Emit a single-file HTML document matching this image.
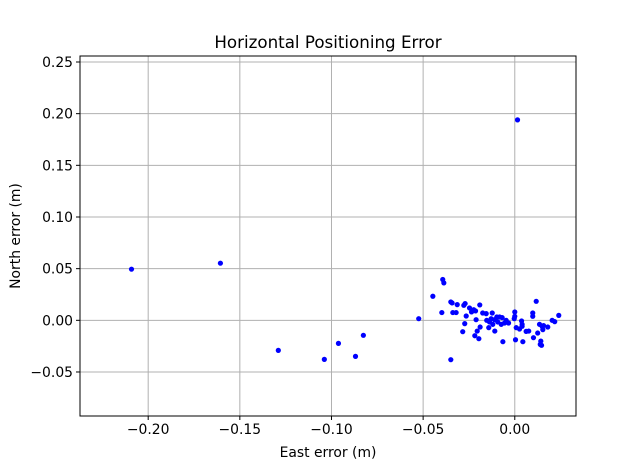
<!DOCTYPE html>
<html><head><meta charset="utf-8"><style>
body{margin:0;background:#fff}
svg{display:block;font-family:"DejaVu Sans","Liberation Sans",sans-serif}
</style></head><body>
<svg id="chart" width="640" height="468" viewBox="0 0 640 468" xmlns="http://www.w3.org/2000/svg">
<rect x="0" y="0" width="640" height="468" fill="#fff"/>
<g id="grid"></g>
<g id="ticks"></g>
<g id="points"></g>
<rect x="80" y="56" width="496" height="360" fill="none" stroke="#000" stroke-width="1"/>
<text x="328" y="48" text-anchor="middle" font-size="16.7">Horizontal Positioning Error</text>
<text x="328" y="457" text-anchor="middle" font-size="13.9">East error (m)</text>
<text transform="translate(20,236) rotate(-90)" text-anchor="middle" font-size="13.9">North error (m)</text>
</svg>
<script>
const xTicks=[-0.20,-0.15,-0.10,-0.05,0.00];
const xTickLabels=["−0.20","−0.15","−0.10","−0.05","0.00"];
const yTicks=[-0.05,0.00,0.05,0.10,0.15,0.20,0.25];
const yTickLabels=["−0.05","0.00","0.05","0.10","0.15","0.20","0.25"];
const eastErr=[0.0015,-0.2091,-0.1606,-0.1290,-0.1039,-0.0962,-0.0869,-0.0826,
-0.0393,-0.0387,-0.0447,-0.0524,-0.0398,-0.0349,-0.0342,-0.0314,-0.0338,-0.0320,-0.0278,-0.0271,-0.0247,-0.0236,-0.0224,-0.0191,-0.0214,-0.0175,-0.0156,-0.0265,-0.0211,-0.0273,-0.0284,-0.0189,-0.0205,-0.0218,-0.0196,-0.0349,-0.0153,-0.0138,-0.0123,-0.0129,-0.0111,-0.0098,-0.0083,-0.0069,-0.0093,-0.0120,-0.0142,-0.0109,-0.0074,-0.0056,-0.0034,-0.0047,-0.0065,0.0000,0.0000,-0.0003,0.0008,0.0004,0.0037,0.0040,0.0040,0.0026,0.0062,0.0076,0.0044,0.0098,0.0098,0.0117,0.0102,0.0125,0.0135,0.0149,0.0153,0.0157,0.0180,0.0142,0.0146,0.0139,0.0204,0.0218,0.0240];
const northErr=[0.194,0.0495,0.0553,-0.0291,-0.0378,-0.0223,-0.0349,-0.0145,
0.0395,0.0362,0.0233,0.0016,0.0075,0.0178,0.0168,0.0152,0.0075,0.0075,0.0145,0.0162,0.0120,0.0081,0.0103,0.0149,0.0091,0.0071,0.0065,0.0042,0.0006,-0.0032,-0.0110,-0.0065,-0.0104,-0.0149,-0.0178,-0.0381,0.0000,-0.0016,0.0071,0.0016,0.0006,0.0032,0.0032,0.0026,-0.0016,-0.0039,-0.0071,-0.0104,-0.0039,-0.0026,-0.0026,0.0000,-0.0207,0.0081,0.0039,0.0016,-0.0071,-0.0188,-0.0006,-0.0039,-0.0058,-0.0084,-0.0107,-0.0104,-0.0207,0.0071,0.0039,0.0184,-0.0168,-0.0123,-0.0039,-0.0058,-0.0090,-0.0051,-0.0065,-0.0201,-0.0242,-0.0233,0.0000,-0.0013,0.0048];
const NS="http://www.w3.org/2000/svg";
const L=80,R=576,T=56,B=416;
const xMin=-0.2372,xMax=0.0334,yMin=-0.0926,yMax=0.2558;
function sx(v){return L+(v-xMin)/(xMax-xMin)*(R-L);}
function sy(v){return B-(v-yMin)/(yMax-yMin)*(B-T);}
function mk(tag,attrs,parent){const e=document.createElementNS(NS,tag);for(const k in attrs)e.setAttribute(k,attrs[k]);parent.appendChild(e);return e;}
const grid=document.getElementById('grid'),ticks=document.getElementById('ticks'),pts=document.getElementById('points');
xTicks.forEach((v,i)=>{const x=sx(v);
 const g=mk('line',{x1:x,x2:x,y1:T,y2:B,stroke:'#b0b0b0','stroke-width':1},grid);
 
 
 const t=mk('line',{x1:x,x2:x,y1:B,y2:B+4,stroke:'#000'},ticks);
 
 
 const lb=mk('text',{x:x,y:B+18,'text-anchor':'middle','font-size':'13.9'},ticks);lb.textContent=xTickLabels[i];
 
 
});
yTicks.forEach((v,i)=>{const y=sy(v);
 const g=mk('line',{x1:L,x2:R,y1:y,y2:y,stroke:'#b0b0b0','stroke-width':1},grid);
 
 
 const t=mk('line',{x1:L-4,x2:L,y1:y,y2:y,stroke:'#000'},ticks);
 
 
 const lb=mk('text',{x:L-7,y:y+5,'text-anchor':'end','font-size':'13.9'},ticks);lb.textContent=yTickLabels[i];
 
 
});
eastErr.forEach((e,i)=>{
 const c=mk('circle',{cx:sx(e),cy:sy(northErr[i]),r:2.6,fill:'#0000ff'},pts);
 
 
});
</script>
</body></html>
